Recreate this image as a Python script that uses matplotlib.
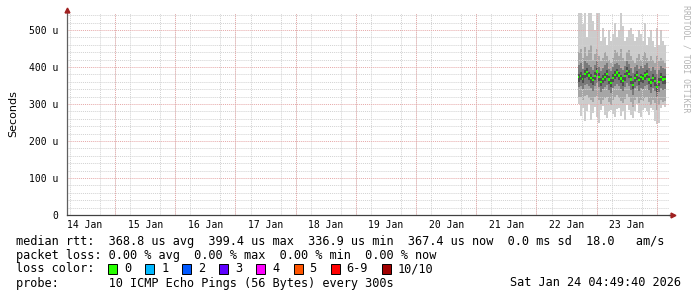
import matplotlib
matplotlib.use("Agg")
import matplotlib.pyplot as plt
import matplotlib.dates as mdates
from matplotlib.ticker import MultipleLocator, FixedLocator, FuncFormatter
from datetime import datetime, timedelta

# ---------------- data (microseconds) ----------------
end_time = datetime(2026, 1, 24, 4, 49, 40)
span_days = 10
sample_start = datetime(2026, 1, 22, 16, 30)
sample_step_min = 48

med = [372, 376, 368, 381, 386, 377, 370, 364, 376, 388, 373, 360, 368, 374, 382, 366,
       357, 371, 379, 385, 377, 369, 362, 375, 390, 381, 366, 352, 371, 378, 364, 372,
       369, 377, 381, 366, 358, 371, 362, 345, 360, 373, 366, 367]
p_max = [560, 560, 515, 560, 480, 560, 560, 525, 500, 560, 560, 470, 505, 480, 460, 500,
         470, 490, 520, 480, 500, 560, 510, 470, 480, 500, 505, 490, 470, 480, 500, 490,
         470, 520, 460, 480, 500, 470, 455, 505, 460, 500, 470, 460]
p9 = [440, 450, 425, 455, 430, 445, 460, 420, 435, 450, 430, 415, 425, 440, 430, 420,
      410, 425, 445, 440, 430, 450, 425, 415, 440, 445, 430, 420, 410, 425, 435, 420,
      430, 440, 425, 415, 430, 420, 410, 430, 415, 425, 420, 410]
p8 = [405, 410, 395, 415, 410, 405, 400, 392, 405, 415, 400, 390, 398, 405, 410, 395,
      388, 400, 408, 412, 405, 398, 392, 404, 415, 408, 396, 385, 400, 406, 395, 402,
      398, 405, 410, 396, 390, 400, 392, 380, 392, 402, 396, 395]
p4 = [345, 350, 340, 352, 355, 348, 342, 336, 348, 356, 345, 332, 340, 346, 352, 338,
      330, 343, 350, 355, 348, 340, 334, 346, 358, 350, 338, 325, 342, 349, 336, 344,
      340, 348, 352, 338, 330, 342, 334, 318, 332, 344, 338, 340]
p2 = [318, 320, 312, 322, 325, 316, 310, 305, 318, 322, 312, 300, 310, 316, 320, 306,
      298, 312, 318, 324, 316, 308, 302, 314, 326, 318, 306, 292, 310, 318, 304, 312,
      308, 316, 320, 306, 298, 310, 302, 285, 298, 312, 306, 308]
p_min = [300, 268, 290, 255, 282, 300, 258, 275, 292, 265, 250, 283, 295, 270, 262, 280,
         285, 272, 265, 286, 290, 268, 280, 258, 296, 284, 270, 262, 280, 300, 275, 265,
         285, 290, 280, 270, 290, 283, 255, 245, 250, 288, 296, 292]

y_max = 546
y_ticks = [0, 100, 200, 300, 400, 500]

stats_line = "median rtt:  368.8 us avg  399.4 us max  336.9 us min  367.4 us now  0.0 ms sd  18.0   am/s"
loss_line = "packet loss: 0.00 % avg  0.00 % max  0.00 % min  0.00 % now"
probe_line = "probe:       10 ICMP Echo Pings (56 Bytes) every 300s"
stamp = "Sat Jan 24 04:49:40 2026"
loss_labels = ["0", "1", "2", "3", "4", "5", "6-9", "10/10"]
loss_colors = ["#26ff00", "#00b8ff", "#0059ff", "#5e00ff", "#ff00ff", "#ff5500", "#ff0000", "#a10000"]

# ---------------- figure ----------------
W, H = 697, 297
fig = plt.figure(figsize=(W / 100, H / 100), dpi=100)
L, R, T, B = 67, 669, 13, 215
ax = fig.add_axes([L / W, 1 - B / H, (R - L) / W, (B - T) / H])

times = [sample_start + timedelta(minutes=sample_step_min * i) for i in range(len(med))]
tnum = mdates.date2num(times)
dt = sample_step_min / 1440.0

def band(lo, hi, color, z):
    ax.bar(tnum, [h - l for l, h in zip(lo, hi)], bottom=lo, width=dt, align="edge",
           color=color, linewidth=0, zorder=z)

band(p_min, p_max, "#cccccc", 1)
band(p2, p9, "#a6a6a6", 2)
band(p4, p8, "#7a7a7a", 3)
band([m - 12 for m in med], [m + 10 for m in med], "#505050", 3.5)
ax.bar(tnum, [6] * len(med), bottom=[m - 3 for m in med], width=dt * 0.8, align="edge",
       color="#26ff00", linewidth=0, zorder=6)

start_time = end_time - timedelta(days=span_days)
ax.set_xlim(mdates.date2num(start_time), mdates.date2num(end_time))
ax.set_ylim(0, y_max)

# grid
dot = (0, (1, 1))
gray = "#d2d2d2"
red = "#e6a8a8"
ax.yaxis.set_major_locator(FixedLocator(y_ticks))
ax.yaxis.set_minor_locator(MultipleLocator(20))
ax.yaxis.set_major_formatter(FuncFormatter(lambda v, p: "0" if v == 0 else f"{int(v)} u"))
ax.grid(True, which="minor", axis="y", color=gray, linestyle=dot, linewidth=0.7, zorder=4)
ax.grid(True, which="major", axis="y", color=red, linestyle=dot, linewidth=0.7, zorder=5)

ax.xaxis.set_minor_locator(mdates.HourLocator(byhour=[0, 6, 12, 18]))
ax.xaxis.set_major_locator(mdates.HourLocator(byhour=[12]))
ax.xaxis.set_major_formatter(mdates.DateFormatter("%d Jan"))
ax.grid(True, which="minor", axis="x", color=gray, linestyle=dot, linewidth=0.7, zorder=4)
for d in mdates.DayLocator().tick_values(start_time, end_time):
    if mdates.date2num(start_time) < d < mdates.date2num(end_time):
        ax.axvline(d, color=red, linestyle=dot, linewidth=0.7, zorder=5)
ax.set_axisbelow(False)

mono = "DejaVu Sans Mono"
ax.tick_params(axis="x", which="both", length=0, labelsize=7, pad=3.5, labelcolor="#000000")
ax.tick_params(axis="y", which="both", length=0, labelsize=7, pad=6, labelcolor="#000000")
for lab in ax.get_xticklabels() + ax.get_yticklabels():
    lab.set_fontfamily(mono)
ax.set_ylabel("Seconds", fontsize=8, family="DejaVu Sans", labelpad=8)

for s in ["top", "right"]:
    ax.spines[s].set_visible(False)
ax.spines["left"].set_color("#606060")
ax.spines["bottom"].set_color("#404040")
ax.spines["left"].set_linewidth(0.9)
ax.spines["bottom"].set_linewidth(0.9)
ax.spines["left"].set_zorder(7)
ax.spines["bottom"].set_zorder(7)
ax.plot([1.0, 1.006], [0, 0], color="#404040", lw=0.9, transform=ax.transAxes, clip_on=False, zorder=7)
ax.plot([1.007], [0], marker=">", color="#a02020", markersize=3.5, transform=ax.transAxes,
        clip_on=False, zorder=8)
ax.plot([0], [1.015], marker="^", color="#a02020", markersize=3.5, transform=ax.transAxes,
        clip_on=False, zorder=8)

# side text
fig.text(686 / W, 1 - 5 / H, "RRDTOOL / TOBI OETIKER", rotation=270, family=mono,
         fontsize=5.9, color="#b4b4b4", ha="center", va="top")

# legend lines
def ftxt(x, y, s, **kw):
    fig.text(x / W, 1 - y / H, s, family=mono, fontsize=8.55, va="center", **kw)

ftxt(16, 241, stats_line)
ftxt(16, 256, loss_line)
ftxt(16, 269, "loss color:")
ftxt(16, 283, probe_line)
ftxt(681, 283, stamp, ha="right")

cw = 7.1
x = 108
for lab, col in zip(loss_labels, loss_colors):
    fig.patches.append(plt.Rectangle(((x) / W, 1 - 274 / H), 9 / W, 10 / H,
                                     transform=fig.transFigure, facecolor=col,
                                     edgecolor="#000000", linewidth=0.7))
    ftxt(x + 16, 269, lab)
    x += 16 + cw * (len(lab) + 2) - 0.2

fig.savefig("out.png", dpi=100)
